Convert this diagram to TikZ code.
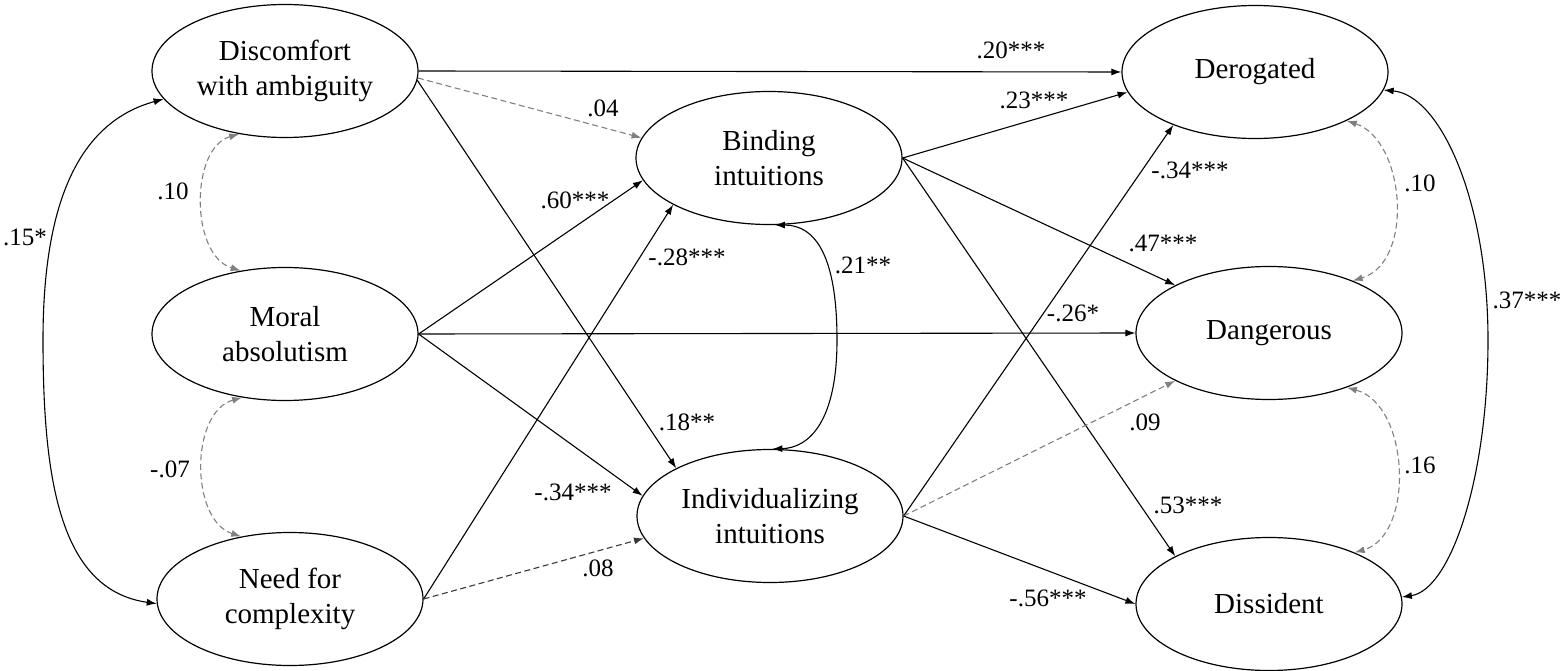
\documentclass[tikz,border=0pt]{standalone}
\usepackage{fontspec}
\setmainfont{Liberation Serif}
\usetikzlibrary{shapes.geometric,arrows.meta}
\begin{document}
\begin{tikzpicture}[x=1pt,y=-1pt,
  lv/.style={ellipse,draw,line width=1.2pt,minimum width=266pt,minimum height=133pt,inner sep=0pt,align=center,font=\fontsize{29}{35}\selectfont},
  arr/.style={line width=1.1pt,-{Latex[length=10pt,width=7pt]}},
  nsg/.style={arr,color=black!50,dash pattern=on 6pt off 3.5pt},
  nsd/.style={arr,color=black!78,dash pattern=on 6pt off 3.5pt},
  covs/.style={line width=1.1pt,{Latex[length=10pt,width=7pt]}-{Latex[length=10pt,width=7pt]}},
  covg/.style={covs,color=black!50,dash pattern=on 6pt off 3.5pt},
  lab/.style={font=\fontsize{25}{30}\selectfont,inner sep=0pt}]
\useasboundingbox (0,0) rectangle (1567,671);

% latent variables
\node[lv] (disc)  at (285,71)   {Discomfort\\with ambiguity};
\node[lv] (moral) at (285,334)  {Moral\\absolutism};
\node[lv] (need)  at (290,599)  {Need for\\complexity};
\node[lv] (bind)  at (769,158)  {Binding\\intuitions};
\node[lv] (indiv) at (770,516)  {Individualizing\\intuitions};
\node[lv] (derog) at (1255,72)  {Derogated};
\node[lv] (dang)  at (1269,333) {Dangerous};
\node[lv] (diss)  at (1269,604) {Dissident};

% paths from left column
\draw[arr] (disc.east) -- (derog.west);
\draw[nsg] (disc.357) -- (bind.171);
\draw[arr] (disc.356) -- (indiv.153);
\draw[arr] (moral.east) -- (bind.190);
\draw[arr] (moral.east) -- (dang.west);
\draw[arr] (moral.east) -- (indiv.171);
\draw[arr] (need.east) -- (bind.206);
\draw[nsd] (need.east) -- (indiv.190);

% paths from mediators
\draw[arr] (bind.east) -- (derog.189);
\draw[arr] (bind.east) -- (dang.153);
\draw[arr] (bind.east) -- (diss.153);
\draw[arr] (indiv.east) -- (derog.213);
\draw[nsg] (indiv.east) -- (dang.207);
\draw[arr] (indiv.east) -- (diss.west);

% covariances
\coordinate (lmid) at (43,340);
\coordinate (bmid) at (837,340);
\coordinate (rmid) at (1488,340);
\draw[covg] (disc.234) .. controls (190,148) and (190,255) .. (moral.125);
\draw[covg] (moral.236) .. controls (190,412) and (190,520) .. (need.128);
\draw[covs] (disc.193) .. controls (80,122) and (43,200) .. (lmid) .. controls (43,480) and (60,590) .. (need.182);
\draw[covs] (bind.275) .. controls (815,225) and (837,255) .. (bmid) .. controls (837,420) and (810,448) .. (indiv.88);
\draw[covg] (derog.332) .. controls (1405,140) and (1415,262) .. (dang.32);
\draw[covg] (dang.325) .. controls (1410,405) and (1415,535) .. (diss.31);
\draw[covs] (derog.352) .. controls (1440,95) and (1488,200) .. (rmid) .. controls (1488,480) and (1450,590) .. (diss.3);

% labels
\node[lab] (l20) at (1011,50) {.20***};
\node[lab] (l04) at (603,108) {.04};
\node[lab] (l18) at (687,422) {.18**};
\node[lab] (l60) at (575,200) {.60***};
\node[lab] (l26) at (1073,313) {-.26*};
\node[lab] (l34a) at (573,492) {-.34***};
\node[lab] (l28) at (687,257) {-.28***};
\node[lab] (l08) at (598,568) {.08};
\node[lab] (l23) at (1034,100) {.23***};
\node[lab] (l47) at (1163,243) {.47***};
\node[lab] (l53) at (1188,505) {.53***};
\node[lab] (l34b) at (1190,170) {-.34***};
\node[lab] (l09) at (1145,422) {.09};
\node[lab] (l56) at (1048,598) {-.56***};
\node[lab] (c10a) at (173,191) {.10};
\node[lab] (c07) at (170,469) {-.07};
\node[lab] (c15) at (25,237) {.15*};
\node[lab] (c21) at (863,265) {.21**};
\node[lab] (c10b) at (1420,183) {.10};
\node[lab] (c16) at (1420,465) {.16};
\node[lab] (c37) at (1527,300) {.37***};
\end{tikzpicture}
\end{document}
